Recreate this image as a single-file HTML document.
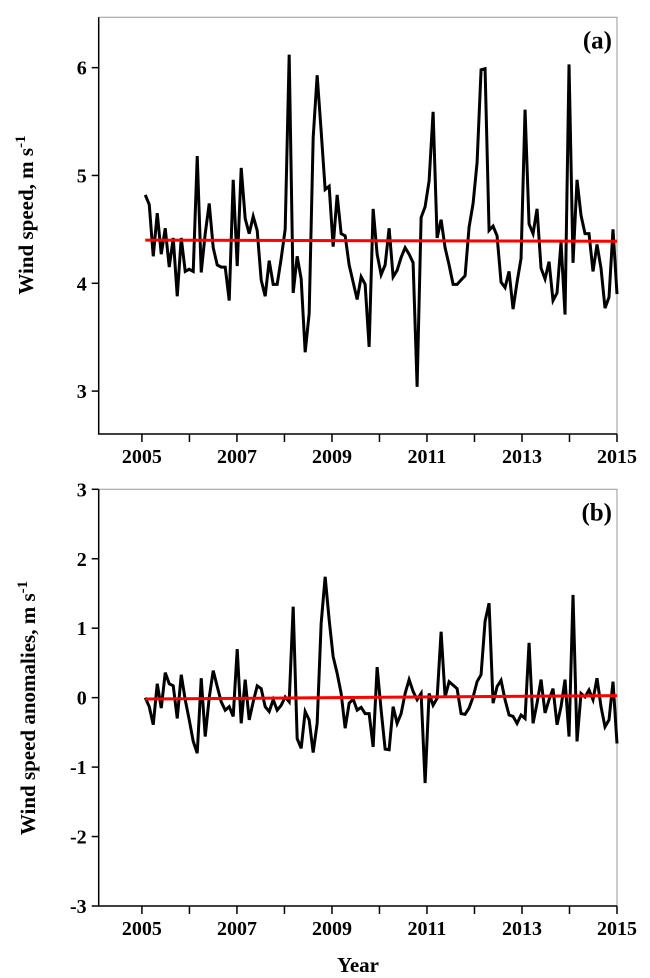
<!DOCTYPE html>
<html><head><meta charset="utf-8"><style>
html,body{margin:0;padding:0;background:#fff}
svg{display:block}
text{font-family:"Liberation Serif",serif;font-weight:bold;fill:#000}
</style></head><body>
<svg id="chart" width="650" height="978" viewBox="0 0 650 978"></svg>
<script>
const xTickYears = [2005, 2007, 2009, 2011, 2013, 2015];
const xMinorYears = [2006, 2008, 2010, 2012, 2014];
const topTicks = [3, 4, 5, 6];
const botTicks = [-3, -2, -1, 0, 1, 2, 3];
const windSpeed = [4.82,4.73,4.25,4.65,4.27,4.51,4.15,4.42,3.88,4.42,4.11,4.13,4.11,5.18,4.10,4.46,4.74,4.33,4.17,4.15,4.15,3.84,4.96,4.16,5.07,4.60,4.46,4.62,4.49,4.03,3.88,4.21,3.99,3.99,4.23,4.50,6.12,3.91,
4.25,4.04,3.36,3.72,5.35,5.93,5.41,4.87,4.90,4.34,4.82,4.46,4.44,4.17,4.01,3.85,4.06,3.99,3.41,4.69,4.27,4.08,4.17,4.51,4.06,4.12,4.24,4.33,4.27,4.19,3.04,4.61,4.71,4.95,5.59,4.42,4.59,4.33,4.17,3.99,
3.99,4.03,4.07,4.52,4.74,5.12,5.98,5.99,4.49,4.53,4.44,4.01,3.96,4.11,3.76,4.01,4.23,5.61,4.55,4.46,4.69,4.14,4.04,4.20,3.84,3.91,4.38,3.71,6.03,4.19,4.96,4.63,4.46,4.46,4.11,4.36,4.14,3.77,3.87,4.50,3.90];
const windTrend = [4.40, 4.39];
const anomalies = [0.0,-0.13,-0.39,0.20,-0.15,0.36,0.20,0.17,-0.30,0.33,-0.03,-0.32,-0.63,-0.80,0.28,-0.56,0.0,0.39,0.16,-0.06,-0.18,-0.13,-0.27,0.70,-0.37,0.26,-0.32,-0.06,0.17,0.13,-0.13,-0.20,-0.03,-0.18,-0.11,0.01,-0.06,1.31,-0.59,
-0.73,-0.20,-0.32,-0.79,-0.37,1.07,1.74,1.12,0.59,0.35,0.06,-0.44,-0.08,-0.02,-0.18,-0.14,-0.23,-0.23,-0.71,0.44,-0.18,-0.74,-0.75,-0.13,-0.37,-0.23,0.06,0.26,0.09,-0.03,0.06,-1.23,0.06,-0.11,-0.01,0.95,0.01,0.23,0.18,0.13,-0.23,
-0.24,-0.15,0.01,0.23,0.33,1.10,1.36,-0.08,0.16,0.25,-0.03,-0.25,-0.27,-0.37,-0.25,-0.30,0.79,-0.37,-0.08,0.26,-0.22,-0.03,0.13,-0.39,-0.13,0.26,-0.56,1.48,-0.63,0.06,0.01,0.11,-0.03,0.28,-0.13,-0.42,-0.32,0.23,-0.66];
const anomTrend = [-0.02, 0.03];
const tStart = 2005.07, tEnd = 2015.0;

const NS = "http://www.w3.org/2000/svg";
const svg = document.getElementById('chart');
function el(tag, attrs, parent){const e=document.createElementNS(NS,tag);for(const k in attrs)e.setAttribute(k,attrs[k]);(parent||svg).appendChild(e);return e;}
const X0=98.7, X1=617, Y0=2004.09, Y1=2015.0;
function xs(t){return X0+(t-Y0)/(Y1-Y0)*(X1-X0);}

function panel(cfg){
  const g = el('g',{});
  
  
  const ys = v => cfg.top + (cfg.vmax - v)/(cfg.vmax-cfg.vmin)*(cfg.bottom-cfg.top);
  const frame = el('path',{d:`M${X0},${cfg.top} H${X1} V${cfg.bottom}`,fill:'none',stroke:'#999','stroke-width':1},g);
  
  
  const ax = el('path',{d:`M${X0},${cfg.top} V${cfg.bottom} H${X1}`,fill:'none',stroke:'#000','stroke-width':1.5},g);
  
  
  cfg.ticks.forEach(v=>{
    const y=ys(v);
    const tk = el('line',{x1:X0-7,x2:X0,y1:y,y2:y,stroke:'#000','stroke-width':1.5},g);
    
    
    const tl = el('text',{x:X0-12,y:y+7,'text-anchor':'end','font-size':20},g);
    
    
    tl.textContent=v;
  });
  xTickYears.concat(xMinorYears).forEach(t=>{
    const x=xs(t);
    const tk = el('line',{x1:x,x2:x,y1:cfg.bottom,y2:cfg.bottom+8,stroke:'#000','stroke-width':1.5},g);
    
    
  });
  xTickYears.forEach(t=>{
    const tl = el('text',{x:xs(t),y:cfg.bottom+29,'text-anchor':'middle','font-size':20},g);
    
    
    tl.textContent=t;
  });
  const n=cfg.data.length;
  const pts=cfg.data.map((v,i)=>`${xs(tStart+i*(tEnd-tStart)/(n-1)).toFixed(2)},${ys(v).toFixed(2)}`).join(' ');
  const line = el('polyline',{points:pts,fill:'none',stroke:'#000','stroke-width':3,'stroke-linejoin':'miter'},g);
  
  
  const tr = el('line',{x1:xs(tStart),x2:xs(tEnd),y1:ys(cfg.trend[0]),y2:ys(cfg.trend[1]),stroke:'#f00','stroke-width':3},g);
  
  
  const lab = el('text',{x:612,y:cfg.top+31,'text-anchor':'end','font-size':25},g);
  
  
  lab.textContent=cfg.label;
  const yt = el('text',{transform:`translate(${cfg.titleX},${cfg.titleY}) rotate(-90)`,'text-anchor':'middle','font-size':21},g);
  
  
  yt.innerHTML = cfg.title + '<tspan font-size="15" dy="-8">-1</tspan>';
}
panel({name:'panel-a',top:17.3,bottom:434,vmin:2.602,vmax:6.467,ticks:topTicks,data:windSpeed,trend:windTrend,label:'(a)',lineName:'wind-speed-line',title:'Wind speed,  m s',titleX:33,titleY:215});
panel({name:'panel-b',top:489.3,bottom:906,vmin:-3,vmax:3,ticks:botTicks,data:anomalies,trend:anomTrend,label:'(b)',lineName:'anomaly-line',title:'Wind speed anomalies,  m s',titleX:35,titleY:708});
const xt = el('text',{x:358,y:972,'text-anchor':'middle','font-size':21});


xt.textContent='Year';
</script>
</body></html>
